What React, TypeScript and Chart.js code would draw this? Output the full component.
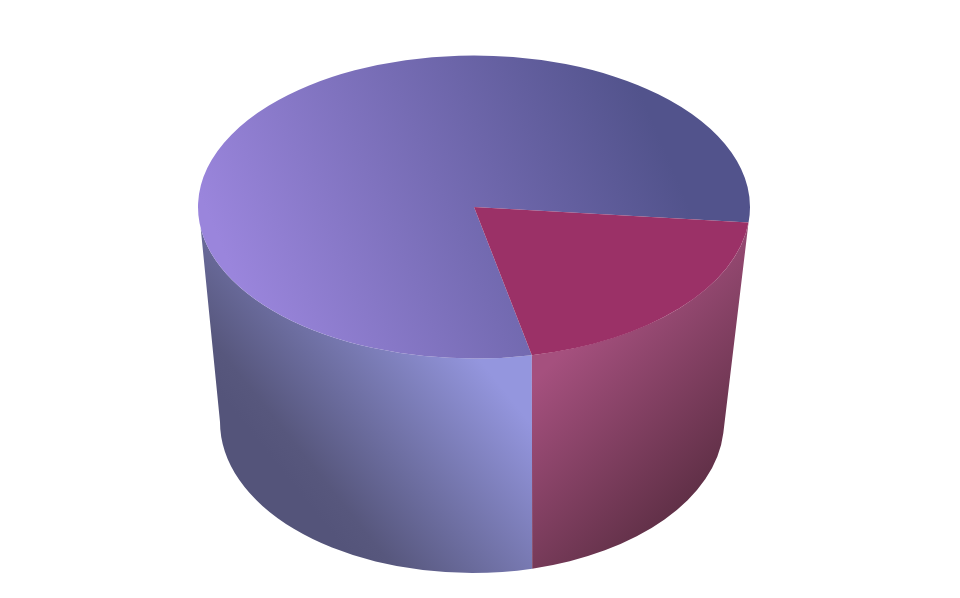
import * as React from 'react';
import Chart from 'chart.js/auto';

const labels = ['Slice A', 'Slice B'];
const values = [80, 20];
const firstSliceRotation = 167.9;

const WIDTH = 960;
const HEIGHT = 598;

// top face ellipse
const topCx = 474;
const topCy = 207;
const topRx = 276;
const topRy = 151.5;
const flatten = topRy / topRx;

// bottom rim, narrower because of the perspective
const botCx = 472;
const botCy = 422;
const botRx = 252;
const botRy = 151;

// the part of the rim facing us, in canvas radians
const visFrom = (5.7 * Math.PI) / 180;
const visTo = (172 * Math.PI) / 180;

type Stops = [number, string][];

const topStops: Stops[] = [
    [[0, '#9a85dc'], [1, '#52538c']],
    [[0, '#9b3167'], [1, '#9b3167']],
];
const wallStops: Stops[] = [
    [[0, '#54547a'], [0.12, '#57577d'], [0.4, '#6a6b9c'], [1, '#9496de']],
    [[0, '#a5507e'], [1, '#5a2d42']],
];
const wallAxis = [
    [[225, 400], [400, 260]],
    [[530, 385], [680, 535]],
];

const toChartY = (y: number) => HEIGHT / 2 + (y - topCy) / flatten;

// gradient for the flattened top face, given in screen coordinates
const flatGradient = (ctx: CanvasRenderingContext2D, from: number[], to: number[], stops: Stops) => {
    const dx = to[0] - from[0];
    const dy = to[1] - from[1];
    const len2 = dx * dx + dy * dy;
    const gx = dx / len2;
    const gy = (dy * flatten) / len2;
    const g2 = gx * gx + gy * gy;
    const x0 = from[0];
    const y0 = toChartY(from[1]);
    const g = ctx.createLinearGradient(x0, y0, x0 + gx / g2, y0 + gy / g2);
    stops.forEach(([p, c]) => g.addColorStop(p, c));
    return g;
};

const bottomAngle = (t: number) => {
    if (t <= visFrom) return 0;
    if (t >= visTo) return Math.PI;
    return t - 0.03;
};

const cylinder = {
    id: 'cylinder',
    beforeDatasetsDraw(chart: Chart) {
        const ctx = chart.ctx;
        const arcs = chart.getDatasetMeta(0).data as any[];
        arcs.forEach((arc, i) => {
            // arcs can run past a full turn, bring them back
            const turn = arc.startAngle >= Math.PI * 2 ? Math.PI * 2 : 0;
            const a = Math.max(arc.startAngle - turn, visFrom);
            const b = Math.min(arc.endAngle - turn, visTo);
            if (b <= a) return;
            const [p0, p1] = wallAxis[i];
            const g = ctx.createLinearGradient(p0[0], p0[1], p1[0], p1[1]);
            wallStops[i].forEach(([p, c]) => g.addColorStop(p, c));
            ctx.beginPath();
            ctx.ellipse(topCx, topCy, topRx, topRy, 0, a, b);
            ctx.ellipse(botCx, botCy, botRx, botRy, 0, bottomAngle(b), bottomAngle(a), true);
            ctx.closePath();
            ctx.fillStyle = g;
            ctx.fill();
        });
        // flatten the pie itself into the top face
        ctx.save();
        ctx.translate(0, topCy);
        ctx.scale(1, flatten);
        ctx.translate(0, -HEIGHT / 2);
    },
    afterDatasetsDraw(chart: Chart) {
        chart.ctx.restore();
    },
};

export default function App() {
    const canvasRef = React.useRef<HTMLCanvasElement>(null);

    React.useEffect(() => {
        const ctx = canvasRef.current!.getContext('2d')!;
        const chart = new Chart(ctx, {
            type: 'pie',
            data: {
                labels,
                datasets: [{
                    data: values,
                    backgroundColor: [
                        flatGradient(ctx, [240, 290], [650, 115], topStops[0]),
                        flatGradient(ctx, [500, 200], [740, 350], topStops[1]),
                    ],
                    borderWidth: 0,
                }],
            },
            options: {
                responsive: false,
                animation: false,
                rotation: firstSliceRotation,
                layout: {
                    padding: { left: topCx - topRx, right: WIDTH - topCx - topRx, top: HEIGHT / 2 - topRx, bottom: HEIGHT / 2 - topRx },
                },
                plugins: {
                    legend: { display: false },
                    tooltip: { enabled: false },
                },
            },
            plugins: [cylinder],
        });
        return () => {
            chart.destroy();
        };
    }, []);

    return (
        <div style={{ position: 'absolute', left: 0, top: 0, width: WIDTH, height: HEIGHT }}>
            <canvas ref={canvasRef} width={WIDTH} height={HEIGHT} style={{ display: 'block' }}></canvas>
        </div>
    );
}
